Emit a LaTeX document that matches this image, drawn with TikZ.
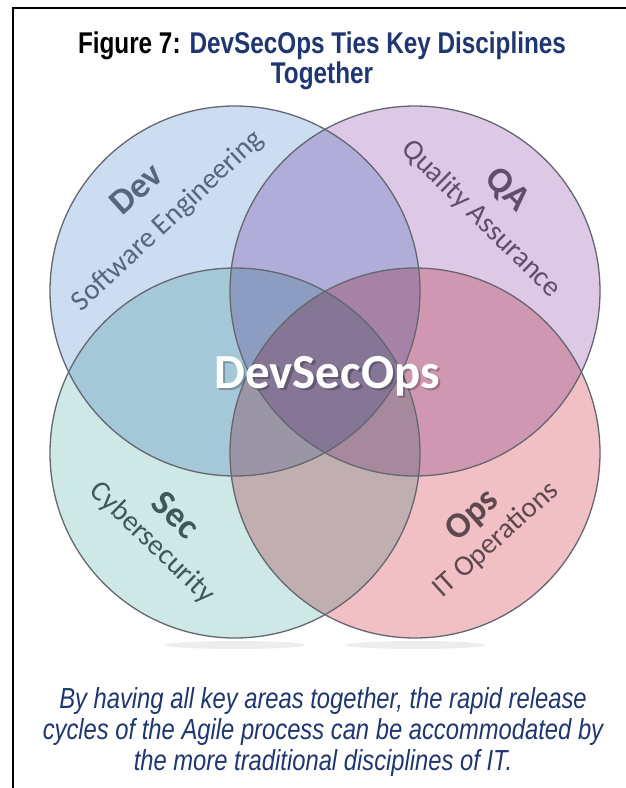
\documentclass[tikz,border=0pt]{standalone}
\usepackage{fontspec}
\setmainfont{Liberation Sans}
\newfontfamily\narrowfont[FakeStretch=0.81]{Liberation Sans}
\newfontfamily\capfont[FakeStretch=0.82]{Liberation Sans}
\newfontfamily\calfont{Carlito}
\definecolor{navy}{RGB}{31,54,112}
\definecolor{devc}{RGB}{204,220,241}
\definecolor{qac}{RGB}{221,201,229}
\definecolor{secc}{RGB}{205,232,229}
\definecolor{opsc}{RGB}{241,192,197}
\definecolor{ringc}{RGB}{100,102,112}
\definecolor{devt}{RGB}{86,102,128}
\definecolor{qat}{RGB}{98,78,106}
\definecolor{sect}{RGB}{60,88,88}
\definecolor{opst}{RGB}{94,72,80}
\tikzset{
  ring/.style={draw=ringc, line width=1.3pt},
  lbl/.style={inner sep=0pt, font=\calfont\fontsize{29}{29}\selectfont},
  lblb/.style={inner sep=0pt, font=\calfont\bfseries\fontsize{36}{36}\selectfont},
  bigword/.style={inner sep=0pt, anchor=base, font=\calfont\bfseries\fontsize{49}{49}\selectfont},
  frame/.style={line width=2pt, draw=black}
}
\begin{document}
\begin{tikzpicture}[x=1pt,y=-1pt]
\useasboundingbox[fill=white] (0,0) rectangle (626,788);
% frame (top and left edges only)
\draw[frame] (12.5,788) -- (12.5,7.5) -- (626,7.5);
% title
\node[name=title, align=center, inner sep=0pt,
      font=\narrowfont\bfseries\fontsize{30}{30}\selectfont] at (322,61)
  {\textcolor{black}{Figure 7:} \textcolor{navy}{DevSecOps Ties Key Disciplines}\\ \textcolor{navy}{Together}};
% circle centres
\coordinate (cdev) at (235,291);
\coordinate (cqa)  at (415,291);
\coordinate (csec) at (235,453);
\coordinate (cops) at (415,453);
% soft shadow under bottom circles
\fill[black, opacity=0.07] (235,645) ellipse[x radius=70pt, y radius=4pt];
\fill[black, opacity=0.07] (415,645) ellipse[x radius=70pt, y radius=4pt];
% fills (multiply)
\begin{scope}[blend mode=multiply]
  \fill[devc] (cdev) circle[radius=185pt];
  \fill[qac]  (cqa)  circle[radius=185pt];
  \fill[secc] (csec) circle[radius=185pt];
  \fill[opsc] (cops) circle[radius=185pt];
\end{scope}
% outlines
\draw[ring] (cdev) circle[radius=185pt];
\draw[ring] (cqa)  circle[radius=185pt];
\draw[ring] (csec) circle[radius=185pt];
\draw[ring] (cops) circle[radius=185pt];
% labels
\node[lblb, text=devt, rotate=42] (devh) at (136,189) {Dev};
\node[lbl,  text=devt, rotate=43] (devs) at (168,221) {Software Engineering};
\node[lblb, text=qat, rotate=-45] (qah) at (507,190) {QA};
\node[lbl,  text=qat, rotate=-44.5] (qas) at (481,219) {Quality Assurance};
\node[lblb, text=sect, rotate=-44] (sech) at (176,515) {Sec};
\node[lbl,  text=sect, rotate=-44] (secs) at (152,543) {Cybersecurity};
\node[lblb, text=opst, rotate=42] (opsh) at (473,516) {Ops};
\node[lbl,  text=opst, rotate=42] (opss) at (496,540) {IT Operations};
% DevSecOps with shadow
\node[bigword, text=black, opacity=0.25] (dsA) at (329.5,390.5) {DevSecOps};
\node[bigword, text=white] (ds) at (327,388) {DevSecOps};
% caption
\node[name=caption, align=center, inner sep=0pt, text=navy,
      font=\capfont\itshape\fontsize{29}{31}\selectfont] at (323,732)
  {By having all key areas together, the rapid release\\
   cycles of the Agile process can be accommodated by\\
   the more traditional disciplines of IT.};
\end{tikzpicture}
\end{document}
